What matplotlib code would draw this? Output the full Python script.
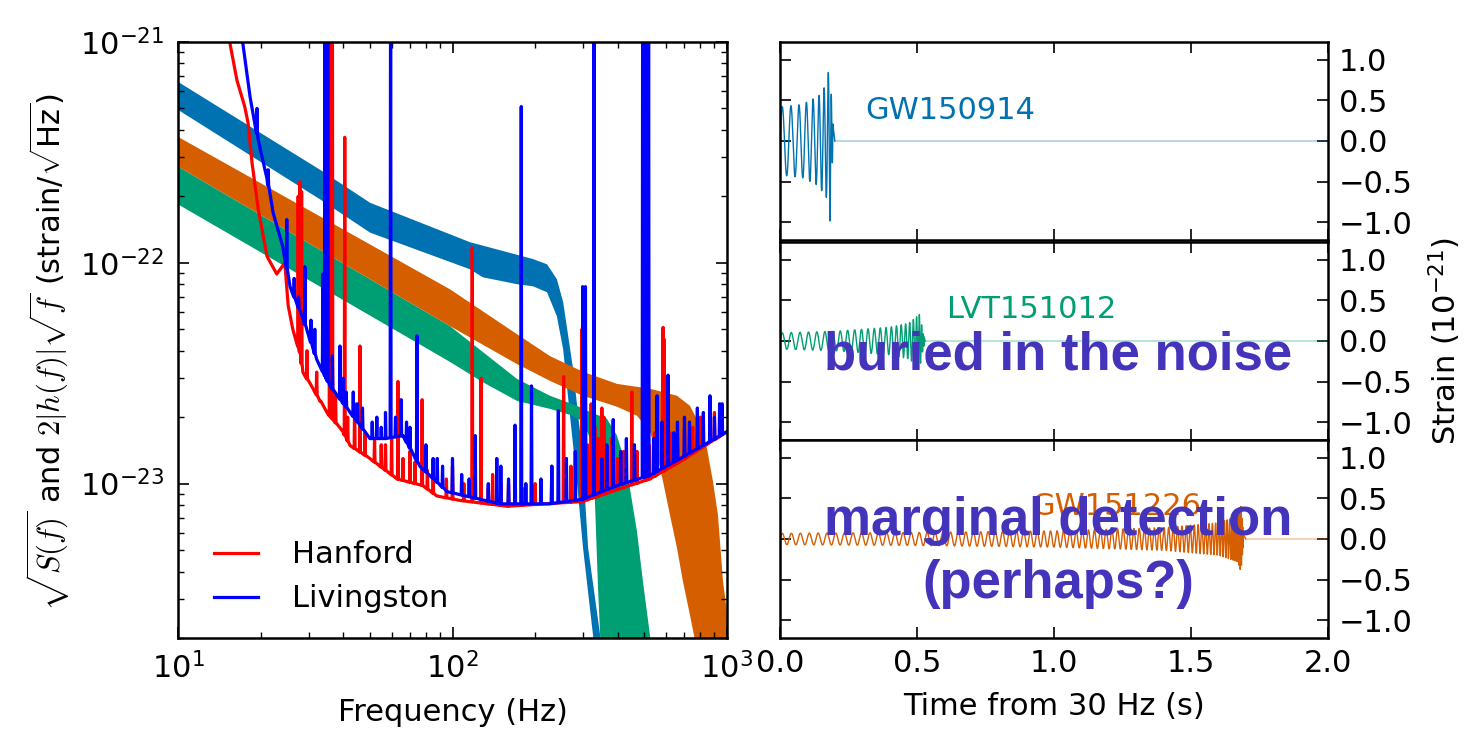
import numpy as np
import matplotlib.pyplot as plt

plt.rcParams['font.family'] = 'DejaVu Sans'
plt.rcParams['mathtext.fontset'] = 'cm'

# detector noise, amplitude spectral density (strain/rtHz)
h1_f = [15.0, 15.5, 16.4, 17.5, 18.0, 18.6, 19.6, 21.1, 22.9, 24.5, 25.2, 26.2, 27.8, 28.5,
        31.0, 34.9, 39.9, 42.3, 50.0, 62.8, 78.0, 87.6, 106, 158, 298, 398, 524, 690, 1000]
h1_asd = [1.5e-21, 9.7e-22, 6.7e-22, 5.1e-22, 4.3e-22, 2.85e-22, 1.75e-22, 1.07e-22, 8.9e-23,
          1.0e-22, 6.4e-23, 5.0e-23, 3.94e-23, 3.2e-23, 2.7e-23, 2.1e-23, 1.72e-23, 1.49e-23,
          1.30e-23, 1.05e-23, 9.8e-24, 8.8e-24, 8.4e-24, 7.9e-24, 8.3e-24, 9.4e-24, 1.05e-23,
          1.28e-23, 1.72e-23]
h1_line_f = [27.4, 27.8, 28.2, 29.5, 32.0, 33.0, 35.7, 36.1, 36.5, 37.5, 40.5, 41.5, 44.0,
             46.0, 48.0, 52.0, 55.0, 57.0, 60.0, 63.3, 66.0, 70.0, 73.0, 77.5, 81.0, 85.0,
             95.0, 100, 110, 118, 127, 135, 140, 150, 160, 180, 200, 230, 254, 270, 296,
             300, 310, 320, 330, 340, 350, 356, 365, 380, 400, 420, 450, 470, 505, 520,
             545, 585, 590, 620, 640, 660, 700, 750, 800, 900]
h1_line_peak = [2.0e-22, 2.33e-22, 2.1e-22, 4.0e-23, 3.2e-23, 2.2e-23, 3e-21, 3e-21, 3e-21,
                2.5e-23, 3.7e-22, 2.0e-23, 2.3e-23, 4.2e-23, 1.7e-23, 1.6e-23, 1.5e-23,
                1.5e-23, 1.6e-23, 2.9e-23, 1.3e-23, 1.4e-23, 1.25e-23, 2.4e-23, 1.15e-23,
                1.1e-23, 1.05e-23, 1.2e-23, 1.0e-23, 1.17e-22, 3.0e-23, 9.5e-24, 1.1e-23,
                1.0e-23, 1.0e-23, 9.5e-24, 1.0e-23, 1.2e-23, 3.05e-23, 1.2e-23, 5.0e-23,
                6.2e-23, 1.5e-23, 2.3e-23, 1.8e-23, 1.6e-23, 2.2e-23, 2.0e-23, 1.4e-23,
                1.6e-23, 1.3e-23, 1.4e-23, 2.6e-23, 1.4e-23, 3e-21, 1.5e-23, 1.7e-23,
                5.1e-23, 4.5e-23, 1.7e-23, 1.6e-23, 1.6e-23, 1.8e-23, 1.8e-23, 2.0e-23, 2.1e-23]

l1_f = [16.5, 17.2, 18.3, 19.6, 21.1, 22.2, 24.1, 25.6, 28.5, 32.0, 35.8, 42.3, 50.0, 56.9,
        66.0, 76.0, 95.6, 149, 226, 298, 398, 524, 690, 970, 1000]
l1_asd = [1.5e-21, 1.0e-21, 5.65e-22, 3.6e-22, 2.4e-22, 1.69e-22, 1.18e-22, 7.8e-23, 5.6e-23,
          3.66e-23, 2.77e-23, 2.11e-23, 1.6e-23, 1.6e-23, 1.65e-23, 1.2e-23, 9.2e-24, 8.1e-24,
          8.1e-24, 8.5e-24, 9.8e-24, 1.09e-23, 1.32e-23, 1.68e-23, 1.72e-23]
l1_line_f = [19.4, 21.3, 24.9, 26.5, 27.5, 29.0, 30.5, 31.5, 33.7, 34.3, 34.7, 35.1, 36.5,
             38.9, 40.0, 41.0, 43.5, 45.0, 47.0, 51.0, 53.0, 55.0, 57.0, 59.5, 62.0, 65.0,
             68.0, 70.0, 74.2, 80.0, 85.0, 88.0, 92.0, 100, 108, 115, 121, 135, 145, 150,
             160, 169, 178, 185, 194, 210, 230, 243, 260, 280, 298, 302, 305, 327.6, 350,
             365, 385, 410, 430, 460, 493, 498, 503, 508, 513, 518, 540, 556, 580, 610, 640,
             660, 700, 730, 780, 820, 867, 900, 940, 960]
l1_line_peak = [5.0e-22, 2.64e-22, 1.57e-22, 8.5e-23, 7.0e-23, 9.6e-23, 5.5e-23, 5.0e-23,
                8.9e-23, 3e-21, 3e-21, 3e-21, 3.8e-23, 4.2e-23, 3.0e-23, 2.6e-23, 2.6e-23,
                2.3e-23, 2.2e-23, 1.9e-23, 2.0e-23, 1.8e-23, 2.1e-23, 3e-21, 2.0e-23, 2.4e-23,
                1.9e-23, 1.8e-23, 4.67e-23, 1.5e-23, 1.3e-23, 1.3e-23, 1.2e-23, 1.3e-23,
                1.1e-23, 1.05e-23, 1.65e-23, 1.0e-23, 1.3e-23, 1.2e-23, 1.05e-23, 1.84e-23,
                5.1e-22, 1.0e-23, 2.77e-23, 1.05e-23, 1.2e-23, 2.14e-23, 1.3e-23, 1.4e-23,
                7.8e-23, 7.0e-23, 7.8e-23, 3e-21, 1.3e-23, 1.5e-23, 1.95e-23, 1.4e-23, 1.6e-23,
                1.5e-23, 3e-21, 3e-21, 3e-21, 3e-21, 3e-21, 3e-21, 1.6e-23, 2.5e-23, 1.9e-23,
                3.1e-23, 1.7e-23, 1.9e-23, 2.0e-23, 1.9e-23, 2.2e-23, 2.1e-23, 2.5e-23, 2.0e-23,
                2.3e-23, 2.3e-23]

# signal bands, 2|h(f)|sqrt(f): upper and lower edges
gw150914_up_f = [10, 32.9, 50.1, 115.8, 196.5, 221, 240, 253, 264, 275, 296, 312, 345, 360]
gw150914_up = [6.6e-22, 2.64e-22, 1.87e-22, 1.24e-22, 1.04e-22, 9.85e-23, 8.43e-23, 6.64e-23,
               4.66e-23, 3.30e-23, 1.44e-23, 5.1e-24, 2.06e-24, 1.5e-24]
gw150914_lo_f = [10, 32.9, 50.1, 115.8, 129, 172, 196.5, 221, 240, 253, 264, 284, 299, 325, 335]
gw150914_lo = [4.93e-22, 1.94e-22, 1.37e-22, 9.35e-23, 8.6e-23, 8.0e-23, 7.83e-23, 7.36e-23,
               5.73e-23, 4.06e-23, 2.42e-23, 1.02e-23, 5.1e-24, 2.06e-24, 1.5e-24]

lvt151012_up_f = [10, 97.9, 171.8, 226.6, 284, 317, 365, 397.5, 418, 443, 470, 494, 524, 537]
lvt151012_up = [2.73e-22, 5.17e-23, 2.98e-23, 2.50e-23, 2.25e-23, 2.11e-23, 1.97e-23, 1.65e-23,
                1.34e-23, 9.5e-24, 6.07e-24, 3.61e-24, 2.06e-24, 1.5e-24]
lvt151012_lo_f = [10, 97.9, 129, 171.8, 226.6, 268, 298.8, 317, 328, 333, 339, 345, 348]
lvt151012_lo = [1.84e-22, 3.56e-23, 2.88e-23, 2.37e-23, 2.18e-23, 2.05e-23, 1.92e-23, 1.60e-23,
                1.05e-23, 6.27e-24, 3.36e-24, 2.06e-24, 1.5e-24]

gw151226_up_f = [10, 97.9, 171.8, 226.6, 298.8, 397.5, 524.2, 657.6, 733.3, 784.5, 845.6,
                 889.3, 927.4, 967, 1060]
gw151226_up = [3.72e-22, 7.59e-23, 4.75e-23, 3.78e-23, 3.21e-23, 2.83e-23, 2.69e-23, 2.50e-23,
               2.25e-23, 1.91e-23, 1.44e-23, 1.02e-23, 7.17e-24, 3.61e-24, 1.5e-24]
gw151226_lo_f = [10, 97.9, 171.8, 226.6, 298.8, 397.5, 470, 524.2, 556, 585, 620, 657.6, 691,
                 733, 758, 797]
gw151226_lo = [2.73e-22, 5.17e-23, 3.48e-23, 2.92e-23, 2.50e-23, 2.23e-23, 2.03e-23, 1.72e-23,
               1.34e-23, 1.02e-23, 7.2e-24, 5.1e-24, 3.61e-24, 2.54e-24, 2.06e-24, 1.5e-24]

# time-domain waveforms from 30 Hz (strain / 1e-21)
events = ['GW150914', 'LVT151012', 'GW151226']
colors = ['#0072B2', '#009E73', '#D55E00']
merge_t = [0.185, 0.518, 1.682]
env_t = [[0, 0.08, 0.14, 0.17, 0.183, 0.19, 0.2],
         [0, 0.2, 0.4, 0.47, 0.51, 0.522, 0.53],
         [0, 0.5, 1.0, 1.4, 1.6, 1.67, 1.682, 1.69, 1.7]]
env_a = [[0.42, 0.45, 0.55, 0.7, 1.0, 0.3, 0.0],
         [0.1, 0.12, 0.17, 0.22, 0.33, 0.1, 0.0],
         [0.07, 0.08, 0.1, 0.14, 0.2, 0.28, 0.4, 0.1, 0.0]]
label_t = [0.31, 0.609, 0.916]
label_y = [0.27, 0.28, 0.29]


def add_lines(f, a, line_f, line_peak, w=0.004):
    lf, la = np.log10(f), np.log10(a)
    ff, aa = list(f), list(a)
    for f0, p in zip(line_f, line_peak):
        base = 10 ** np.interp(np.log10(f0), lf, la)
        ff += [f0 * (1 - w), f0, f0 * (1 + w)]
        aa += [base, max(p, base), base]
    idx = np.argsort(ff)
    return np.array(ff)[idx], np.array(aa)[idx]


def band(ax, fu, au, fl, al, color):
    ax.fill(np.concatenate([fu, fl[::-1]]), np.concatenate([au, al[::-1]]),
            color=color, lw=0, zorder=1)


fig = plt.figure(figsize=(14.74, 7.44), dpi=100, facecolor='white')
W, H = 1474, 744

ax = fig.add_axes([178 / W, 1 - 638 / H, 549 / W, 596 / H])
band(ax, gw150914_up_f, gw150914_up, gw150914_lo_f, gw150914_lo, colors[0])
band(ax, lvt151012_up_f, lvt151012_up, lvt151012_lo_f, lvt151012_lo, colors[1])
band(ax, gw151226_up_f, gw151226_up, gw151226_lo_f, gw151226_lo, colors[2])

f, a = add_lines(h1_f, h1_asd, h1_line_f, h1_line_peak)
ax.plot(f, a, color='r', lw=2.3, label='Hanford', zorder=2)
f, a = add_lines(l1_f, l1_asd, l1_line_f, l1_line_peak)
ax.plot(f, a, color='b', lw=2.3, label='Livingston', zorder=2)

ax.set_xscale('log')
ax.set_yscale('log')
ax.set_xlim(10, 1000)
ax.set_ylim(2e-24, 1e-21)
ax.set_xlabel('Frequency (Hz)', fontsize=22, labelpad=10)
ax.set_ylabel(r'$\sqrt{S(f)}$ and $2|h(f)|\sqrt{f}$ (strain/$\sqrt{\mathdefault{Hz}}$)',
              fontsize=22)
ax.yaxis.set_label_coords(-0.193, 0.48)
ax.tick_params(which='both', direction='in', top=True, right=True, labelsize=22, pad=10)
ax.tick_params(which='major', length=8, width=1.2)
ax.tick_params(which='minor', length=4, width=1)
for s in ax.spines.values():
    s.set_linewidth(1.8)
ax.legend(loc='lower left', frameon=False, fontsize=22, handlelength=1.45,
          handletextpad=1.1, labelspacing=0.5, bbox_to_anchor=(0.015, -0.005))

t = np.linspace(0, 2, 20001)
bottoms = [1 - 240 / H, 1 - 440 / H, 1 - 638 / H]
axs = []
for i in range(3):
    axr = fig.add_axes([780 / W, bottoms[i], 548 / W, 198 / H])
    tau = merge_t[i] + 0.008
    x = np.clip(1 - t / tau, 1e-6, None)
    phase = 2 * np.pi * 30 * tau * 1.6 * (1 - x ** 0.625)
    h = np.interp(t, env_t[i], env_a[i]) * np.sin(phase)
    end = env_t[i][-1]
    axr.plot(t[t <= end], h[t <= end], color=colors[i], lw=1.0)
    axr.plot(t[t >= end], h[t >= end], color=colors[i], lw=1.0, alpha=0.4)
    axr.text(label_t[i], label_y[i], events[i], color=colors[i], fontsize=22)
    axr.set_xlim(0, 2)
    axr.set_ylim(-1.22, 1.22)
    axr.set_xticks([0, 0.5, 1.0, 1.5, 2.0])
    axr.set_yticks([-1, -0.5, 0, 0.5, 1])
    axr.yaxis.tick_right()
    axr.tick_params(direction='in', top=True, left=True, right=True, labelsize=22,
                    length=8, width=1.2, pad=8)
    if i < 2:
        axr.tick_params(labelbottom=False)
    for s in axr.spines.values():
        s.set_linewidth(1.8)
    axs.append(axr)

axs[1].yaxis.set_label_position('right')
axs[1].set_ylabel(r'Strain ($\mathdefault{10^{-21}}$)', fontsize=22, labelpad=10)
axs[2].set_xlabel('Time from 30 Hz (s)', fontsize=22, labelpad=10)

note = dict(ha='center', va='baseline', fontsize=38, fontweight='bold',
            family='Liberation Sans', color='#4433BB')
fig.text(1058 / W, 1 - 370 / H, 'buried in the noise', **note)
fig.text(1058 / W, 1 - 535 / H, 'marginal detection', **note)
fig.text(1058 / W, 1 - 598 / H, '(perhaps?)', **note)

fig.savefig('out.png', dpi=100, facecolor='white')
